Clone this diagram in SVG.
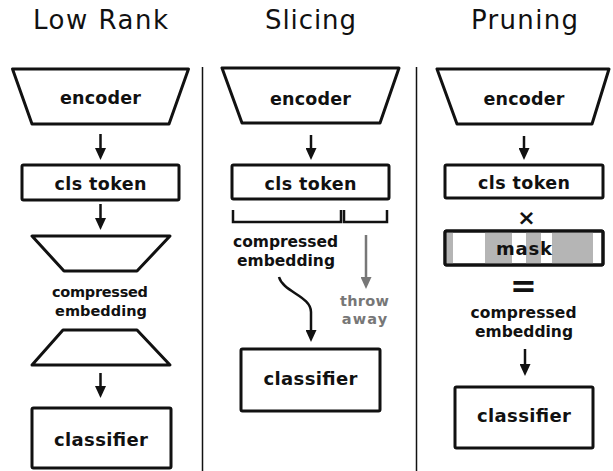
<svg xmlns="http://www.w3.org/2000/svg" width="613" height="471" viewBox="0 0 613 471">
<style>
.title{font-family:"DejaVu Sans",sans-serif;font-size:26px;fill:#111;text-anchor:middle}
.lbl{font-family:"DejaVu Sans",sans-serif;font-weight:bold;fill:#111;text-anchor:middle}
.glbl{font-family:"DejaVu Sans",sans-serif;font-weight:bold;fill:#777;text-anchor:middle}
.shape{fill:#fff;stroke:#111;stroke-width:3;stroke-linejoin:round}
.conn{fill:none;stroke:#111;stroke-width:2.5}
.gray{stroke:#777}
.div{stroke:#111;stroke-width:1.5}
.stripe{fill:#b5b5b5}
</style>
<defs>
<marker id="ah" markerUnits="userSpaceOnUse" markerWidth="12" markerHeight="11" refX="0" refY="5.5" orient="auto" viewBox="0 0 12 11"><path d="M0,0 L12,5.5 L0,11 z" fill="#111"/></marker>
<marker id="ahg" markerUnits="userSpaceOnUse" markerWidth="12" markerHeight="11" refX="0" refY="5.5" orient="auto" viewBox="0 0 12 11"><path d="M0,0 L12,5.5 L0,11 z" fill="#777"/></marker>
</defs>
<rect width="613" height="471" fill="#fff"/>
<g id="titles">
<text class="title" x="100.5" y="29" textLength="135">Low Rank</text>
<text class="title" x="310.5" y="29" textLength="91">Slicing</text>
<text class="title" x="524.5" y="29" textLength="107">Pruning</text>
</g>
<g id="dividers">
<line class="div" x1="202.5" y1="67" x2="202.5" y2="471"/>
<line class="div" x1="416.5" y1="67" x2="416.5" y2="471"/>
</g>
<!-- Low Rank -->
<g id="lr-encoder">
<polygon class="shape" points="12.5,69 188.5,69 169,124 32,124"/>
<text class="lbl" x="100.5" y="104" font-size="17.5" textLength="81">encoder</text>
</g>
<g id="lr-cls">
<rect class="shape" x="22" y="165" width="157" height="35" rx="1.5"/>
<text class="lbl" x="100.5" y="190" font-size="17.5" textLength="92">cls token</text>
</g>
<g id="lr-down">
<polygon class="shape" points="32,236 170,236 137,271 64,271"/>
</g>
<g id="lr-compressed">
<text class="lbl" x="100" y="296.5" font-size="14.5" textLength="96">compressed</text>
<text class="lbl" x="101" y="316" font-size="14.5" textLength="92">embedding</text>
</g>
<g id="lr-up">
<polygon class="shape" points="63,330 137,330 170,365 32,365"/>
</g>
<g id="lr-classifier">
<rect class="shape" x="32" y="408" width="139" height="60" rx="1.5"/>
<text class="lbl" x="101" y="446" font-size="18" textLength="94">classifier</text>
</g>
<!-- Slicing -->
<g id="sl-encoder">
<polygon class="shape" points="222,68 399,68 380,123 242,123"/>
<text class="lbl" x="310.5" y="105" font-size="17.5" textLength="81">encoder</text>
</g>
<g id="sl-cls">
<rect class="shape" x="232" y="165" width="157" height="34" rx="1.5"/>
<text class="lbl" x="310.5" y="190" font-size="17.5" textLength="92">cls token</text>
</g>
<g id="sl-brackets">
<path class="conn" d="M233,210 V222 H341 V210"/>
<path class="conn" d="M344,210 V222 H387 V210"/>
</g>
<g id="sl-compressed">
<text class="lbl" x="285.5" y="247" font-size="15.5" textLength="105">compressed</text>
<text class="lbl" x="286" y="266" font-size="15.5" textLength="98">embedding</text>
</g>
<g id="sl-throw">
<text class="glbl" x="364.5" y="306" font-size="14.5" textLength="49">throw</text>
<text class="glbl" x="364.5" y="324" font-size="14.5" textLength="45.5">away</text>
</g>
<g id="sl-classifier">
<rect class="shape" x="241" y="349" width="139" height="62" rx="1.5"/>
<text class="lbl" x="310.5" y="385" font-size="18" textLength="94">classifier</text>
</g>
<!-- Pruning -->
<g id="pr-encoder">
<polygon class="shape" points="437,69 609,69 592,124 457,124"/>
<text class="lbl" x="524" y="105" font-size="17.5" textLength="81">encoder</text>
</g>
<g id="pr-cls">
<rect class="shape" x="445" y="165" width="158" height="33" rx="1.5"/>
<text class="lbl" x="524" y="189" font-size="17.5" textLength="92">cls token</text>
</g>
<g id="pr-times">
<text class="lbl" x="526.5" y="225" font-size="22">×</text>
</g>
<g id="pr-mask">
<rect class="shape" x="445" y="231" width="158" height="34" rx="1.5"/>
<rect class="stripe" x="446.5" y="232.5" width="6.5" height="31"/>
<rect class="stripe" x="485" y="232.5" width="27" height="31"/>
<rect class="stripe" x="526" y="232.5" width="15" height="31"/>
<rect class="stripe" x="552" y="232.5" width="41" height="31"/>
<rect x="445" y="231" width="158" height="34" rx="1.5" fill="none" stroke="#111" stroke-width="3"/>
<text class="lbl" x="524" y="255" font-size="18" textLength="56">mask</text>
</g>
<g id="pr-equals">
<text class="lbl" x="523.5" y="297" font-size="32">=</text>
</g>
<g id="pr-compressed">
<text class="lbl" x="523.5" y="318" font-size="15.5" textLength="106">compressed</text>
<text class="lbl" x="524" y="337" font-size="15.5" textLength="98">embedding</text>
</g>
<g id="pr-classifier">
<rect class="shape" x="455" y="387" width="138" height="61" rx="1.5"/>
<text class="lbl" x="524" y="422" font-size="18" textLength="94">classifier</text>
</g>
<g id="connectors">
<line class="conn" x1="100.5" y1="134" x2="100.5" y2="148" marker-end="url(#ah)"/>
<line class="conn" x1="100.5" y1="204" x2="100.5" y2="218" marker-end="url(#ah)"/>
<line class="conn" x1="100.5" y1="373" x2="100.5" y2="386" marker-end="url(#ah)"/>
<line class="conn" x1="311" y1="135" x2="311" y2="148" marker-end="url(#ah)"/>
<line class="conn gray" x1="366" y1="235" x2="366" y2="277" marker-end="url(#ahg)"/>
<path class="conn" d="M279,277 C283,292 311,296 311,312 L311,330" marker-end="url(#ah)"/>
<line class="conn" x1="524" y1="136" x2="524" y2="148" marker-end="url(#ah)"/>
<line class="conn" x1="525" y1="349" x2="525" y2="364" marker-end="url(#ah)"/>
</g>
</svg>
